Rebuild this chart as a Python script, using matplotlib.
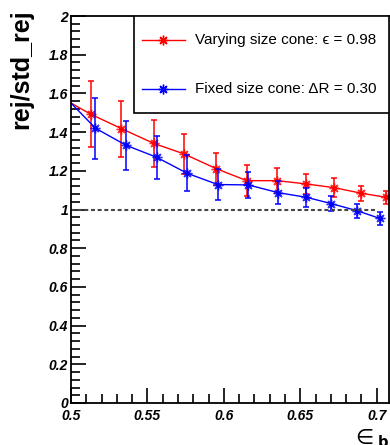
import numpy as np
import matplotlib
matplotlib.use('Agg')
import matplotlib.pyplot as plt
from matplotlib.patches import Rectangle
from matplotlib.lines import Line2D

plt.rcParams['font.family'] = ['Liberation Sans', 'DejaVu Sans']

# varying size cone (red)
x_var = [0.5, 0.513, 0.533, 0.554, 0.574, 0.595, 0.615, 0.635, 0.654, 0.672, 0.690, 0.706]
y_var = [1.55, 1.492, 1.418, 1.342, 1.287, 1.211, 1.149, 1.149, 1.132, 1.113, 1.084, 1.063]
e_var = [0.0, 0.17, 0.145, 0.12, 0.104, 0.082, 0.08, 0.065, 0.052, 0.05, 0.04, 0.035]

# fixed size cone (blue)
x_fix = [0.5, 0.516, 0.536, 0.556, 0.576, 0.596, 0.616, 0.6355, 0.654, 0.670, 0.687, 0.702]
y_fix = [1.55, 1.42, 1.332, 1.27, 1.187, 1.129, 1.127, 1.087, 1.063, 1.031, 0.994, 0.954]
e_fix = [0.0, 0.157, 0.127, 0.11, 0.093, 0.08, 0.065, 0.06, 0.05, 0.04, 0.037, 0.032]

lab_var = 'Varying size cone: \u03f5 = 0.98'
lab_fix = 'Fixed size cone: \u0394R = 0.30'

star = (8, 2, 0)

fig = plt.figure(figsize=(3.9, 4.45), dpi=100)
ax = fig.add_axes([71/390, 42/445, 318/390, 387/445])

for xs, ys, es, c in [(x_var, y_var, e_var, 'red'), (x_fix, y_fix, e_fix, 'blue')]:
    ax.plot(xs, ys, color=c, lw=1.0)
    ax.errorbar(xs[1:], ys[1:], yerr=es[1:], fmt='none', ecolor=c,
                elinewidth=1.1, capsize=2.2, capthick=1.1)
    ax.plot(xs[1:], ys[1:], ls='none', marker=star, ms=7, mew=1.0,
            color=c, alpha=0.8)
    ax.plot(xs[1:], ys[1:], ls='none', marker='o', ms=2.5, color=c)

ax.plot([0.5, 0.7], [1, 1], color='#444444', lw=1.5, ls=(0, (1.9, 1.3)))

ax.set_xlim(0.5, 0.708)
ax.set_ylim(0, 2)
ax.set_xticks(np.arange(0.5, 0.701, 0.05))
ax.set_xticklabels(['0.5', '0.55', '0.6', '0.65', '0.7'])
ax.set_xticks(np.arange(0.5, 0.708, 0.01), minor=True)
ax.set_yticks(np.arange(0, 2.01, 0.2))
ax.set_yticklabels(['0', '0.2', '0.4', '0.6', '0.8', '1', '1.2', '1.4', '1.6', '1.8', '2'])
ax.set_yticks(np.arange(0, 2.001, 0.04), minor=True)
ax.tick_params(which='both', direction='in', top=False, right=False, width=1.2)
ax.tick_params(which='major', length=11)
ax.tick_params(which='minor', length=6.5)
ax.tick_params(axis='y', pad=2)
ax.tick_params(axis='x', pad=4)
for t in ax.get_xticklabels() + ax.get_yticklabels():
    t.set_fontweight('bold')
    t.set_fontstyle('italic')
    t.set_fontsize(10)
for s in ax.spines.values():
    s.set_linewidth(1.3)

ax.set_ylabel('rej/std_rej', fontsize=18, fontweight='bold')
ax.yaxis.set_label_coords(-0.118, 0.862)
ax.set_xlabel(r'$\in_{\mathbf{b}}$', fontsize=15)
ax.xaxis.set_label_coords(1.0, -0.062)
ax.xaxis.label.set_horizontalalignment('right')

# legend box
ax.add_patch(Rectangle((0.198, 0.749), 0.802, 0.251, transform=ax.transAxes,
                       facecolor='white', edgecolor='black', lw=1.2, zorder=5))
for yy, c, lab in [(0.938, 'red', lab_var), (0.811, 'blue', lab_fix)]:
    ax.add_line(Line2D([0.223, 0.36], [yy, yy], color=c, lw=1.0,
                       transform=ax.transAxes, zorder=6))
    ax.add_line(Line2D([0.29], [yy], color=c, marker=star, ms=7, mew=1.0,
                       transform=ax.transAxes, zorder=6))
    ax.add_line(Line2D([0.29], [yy], color=c, marker='o', ms=2.5,
                       transform=ax.transAxes, zorder=6))
    ax.text(0.39, yy, lab, transform=ax.transAxes, fontsize=11,
            va='center', ha='left', zorder=7)

fig.savefig('out.png', dpi=100)
